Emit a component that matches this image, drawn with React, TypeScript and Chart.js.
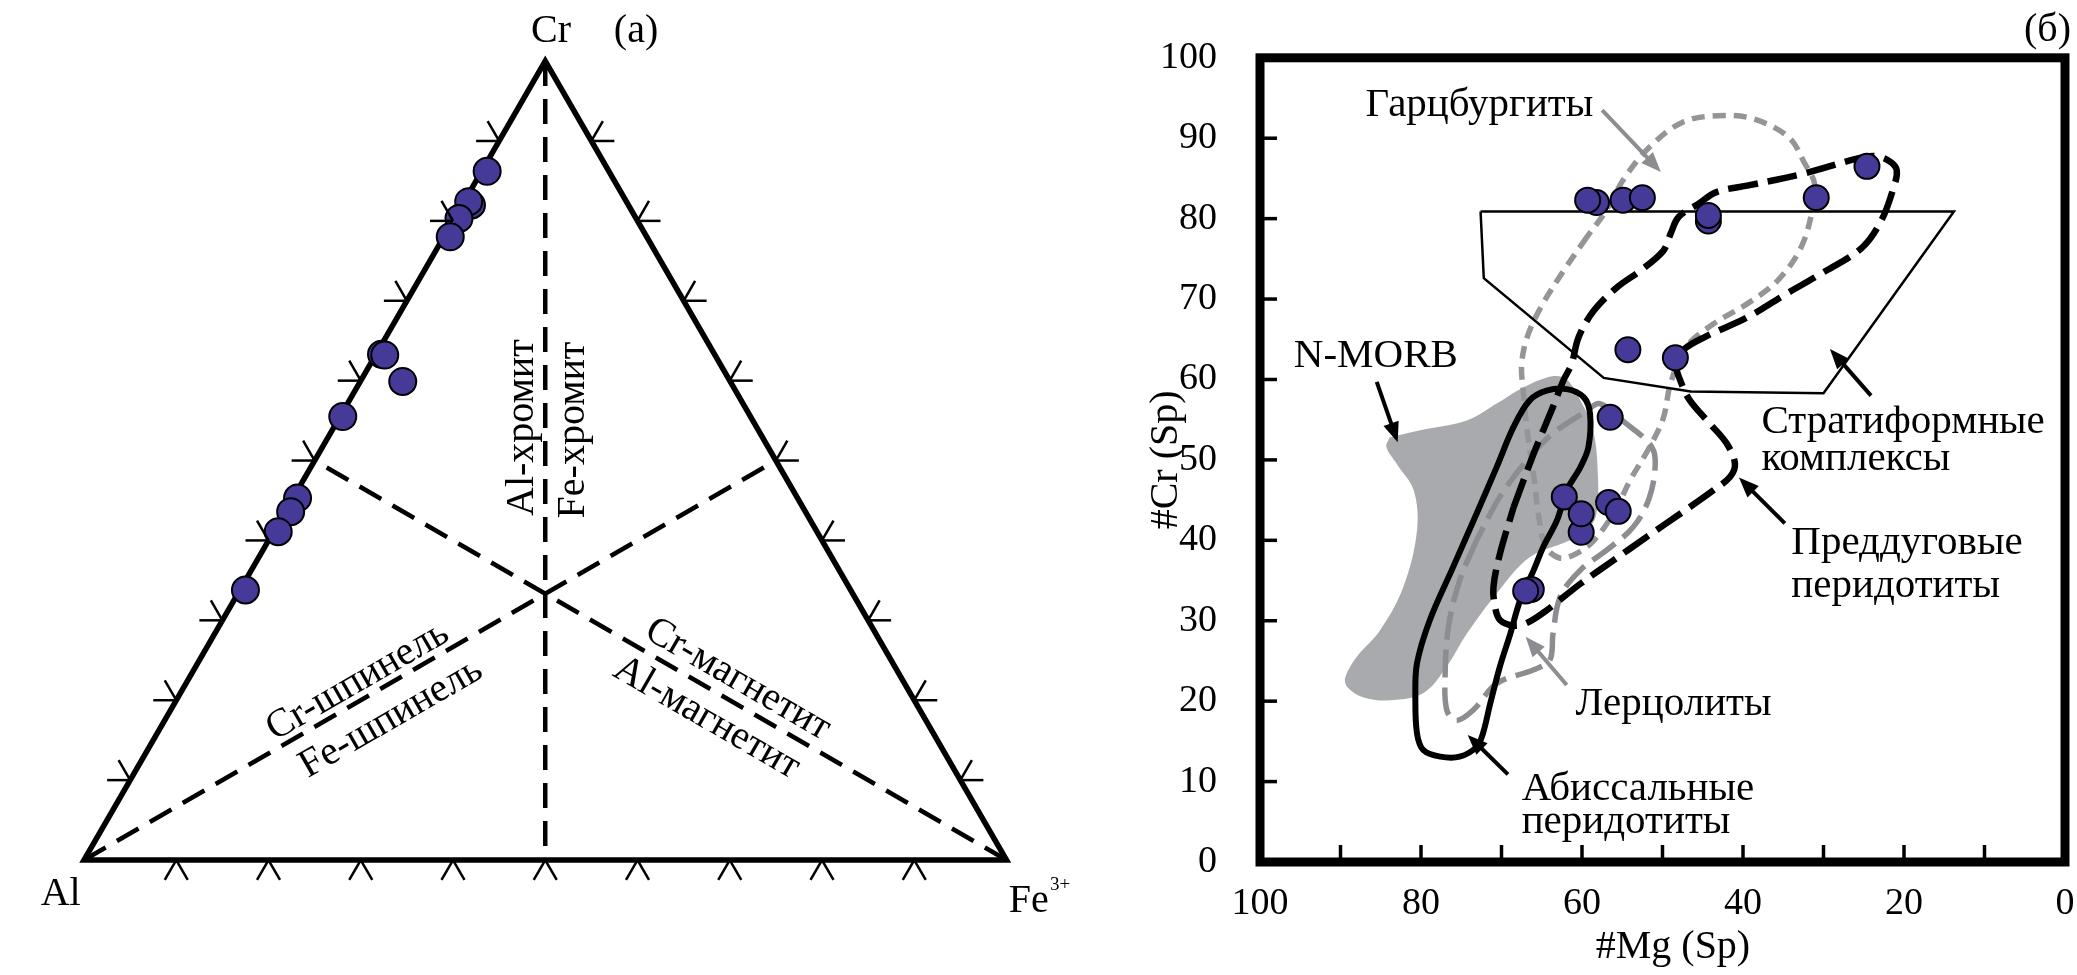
import React, { useEffect, useRef } from 'react';
import { Chart, registerables } from 'chart.js';

Chart.register(...registerables);

const SERIF = '"Liberation Serif", "Times New Roman", Times, serif';
const BLUE = '#453a98';
const FILL_GRAY = '#a8aaad';
const LHERZ_GRAY = '#8b8d90';
const HARZ_GRAY = '#939598';

// ---------- (a) ternary Cr – Al – Fe3+ (values in %, Al = 100 − Cr − Fe) ----------
const ternCr = [86.2, 82.0, 82.4, 80.3, 78.0, 63.3, 63.2, 59.9, 55.5, 45.3, 43.6, 41.1, 33.8];
const ternFe = [0.6, 1.0, 0.5, 0.5, 0.7, 0.6, 1.0, 4.6, 0.3, 0.5, 0.6, 0.5, 0.6];
const ternTickValues = [10, 20, 30, 40, 50, 60, 70, 80, 90];
const ternOutlineCr = [0, 100, 0, 0, 100];
const ternOutlineFe = [0, 0, 100, 0, 0];
const medianStartCr = [100, 0, 0];
const medianStartFe = [0, 0, 100];
const medianEndCr = [0, 50, 50];
const medianEndFe = [50, 50, 0];
const ternLabels = ['Al-хромит', 'Fe-хромит', 'Cr-шпинель', 'Fe-шпинель', 'Cr-магнетит', 'Al-магнетит'];

// ---------- (б) #Cr vs #Mg ----------
const mgNum = [58.2, 59.3, 54.9, 52.5, 44.3, 44.3, 30.9, 24.6, 54.3, 48.4, 56.5, 62.2, 60.1, 60.1, 56.7, 55.5, 66.3, 67.0];
const crNum = [82.0, 82.3, 82.3, 82.6, 79.7, 80.4, 82.6, 86.5, 63.7, 62.7, 55.3, 45.4, 41.0, 43.3, 44.7, 43.6, 33.9, 33.7];

const nmorbMg = [83.9, 80.1, 74.3, 70.6, 67.3, 63.7, 61.9, 60.2, 58.6, 58.0, 58.2, 59.0, 61.5, 66.5, 70.6, 74.3, 76.8, 79.7, 83.9, 87.2, 89.2, 89.4, 88.0, 85.1, 82.2, 80.5, 80.9, 83.0, 84.3, 83.9];
const nmorbCr = [52.8, 53.7, 54.9, 57.0, 59.0, 60.4, 60.0, 57.4, 53.7, 47.5, 43.3, 41.7, 40.0, 37.9, 33.4, 28.4, 24.3, 21.0, 20.1, 20.5, 21.8, 23.0, 25.5, 28.8, 34.2, 41.2, 46.2, 49.5, 51.6, 52.8];

const abyssMg = [73.1, 70.6, 68.5, 66.5, 64.4, 61.9, 59.8, 59.0, 59.2, 60.2, 61.9, 63.1, 64.8, 66.0, 67.7, 68.9, 70.2, 71.4, 72.3, 73.1, 75.2, 77.6, 79.7, 80.5, 80.7, 80.5, 78.9, 76.0, 73.1];
const abyssCr = [43.3, 49.1, 54.1, 57.4, 58.6, 58.8, 57.8, 55.7, 51.6, 49.1, 46.2, 42.5, 39.2, 36.3, 32.5, 28.4, 24.3, 19.7, 16.0, 14.3, 13.1, 13.1, 13.9, 16.0, 20.5, 24.7, 30.1, 36.7, 43.3];

const lherzMg = [73.1, 75.2, 76.6, 77.0, 76.8, 75.6, 73.5, 70.6, 66.0, 64.0, 63.6, 62.7, 60.2, 56.9, 53.6, 51.6, 50.9, 51.6, 54.5, 57.8, 59.4, 63.6, 66.9, 70.2, 73.1];
const lherzCr = [40.0, 35.0, 29.2, 23.4, 18.9, 17.6, 18.9, 22.2, 23.9, 25.1, 28.4, 33.0, 36.3, 38.8, 41.7, 45.4, 49.9, 52.0, 54.5, 57.0, 56.1, 53.3, 49.9, 45.4, 40.0];

const harzMg = [59.4, 62.3, 65.1, 66.8, 67.5, 67.3, 66.8, 66.0, 65.3, 64.5, 62.8, 60.8, 58.6, 56.0, 54.0, 51.6, 49.9, 49.0, 47.1, 43.7, 39.5, 35.7, 32.8, 31.4, 31.1, 32.3, 34.3, 38.7, 43.1, 47.5, 51.5, 54.7, 57.0, 59.4];
const harzCr = [77.7, 73.5, 69.0, 65.3, 61.9, 58.6, 53.5, 48.0, 42.5, 39.2, 37.8, 38.3, 39.9, 43.5, 47.5, 51.6, 55.2, 59.5, 64.0, 66.9, 69.4, 72.3, 76.4, 81.0, 84.3, 86.8, 90.1, 92.4, 92.8, 92.0, 89.0, 85.1, 81.0, 77.7];

const foreMg = [68.5, 66.0, 63.6, 62.3, 61.3, 60.4, 58.5, 55.6, 52.8, 49.9, 49.0, 48.0, 45.6, 43.3, 39.5, 32.8, 26.1, 23.8, 21.9, 20.9, 21.4, 22.8, 25.2, 30.4, 34.7, 39.5, 44.7, 47.5, 48.3, 47.8, 46.6, 44.1, 42.0, 41.0, 41.6, 43.7, 47.8, 52.0, 56.1, 60.2, 64.4, 66.9, 68.5, 70.2, 70.8, 71.0, 70.2, 68.5];
const foreCr = [44.1, 50.8, 56.6, 59.9, 61.9, 65.3, 68.6, 71.5, 73.5, 76.0, 78.1, 80.2, 81.8, 83.3, 84.1, 85.5, 87.4, 87.8, 87.2, 86.0, 83.5, 79.8, 76.4, 73.1, 70.6, 67.7, 65.3, 63.6, 61.8, 59.9, 57.4, 54.5, 52.0, 49.5, 47.9, 46.2, 43.3, 40.4, 37.5, 34.6, 31.3, 29.7, 29.4, 30.1, 31.7, 34.2, 38.3, 44.1];

const stratMg = [72.6, 13.8, 30.0, 46.5, 57.3, 72.2, 72.6];
const stratCr = [80.9, 80.9, 58.3, 58.5, 60.2, 72.6, 80.9];

const fieldLabels = ['Гарцбургиты', 'N-MORB', 'Стратиформные', 'комплексы', 'Преддуговые', 'перидотиты', 'Лерцолиты', 'Абиссальные', 'перидотиты'];
const fieldLabelMg = [86.9, 95.8, 37.7, 37.7, 34.0, 34.0, 60.8, 67.5, 67.5];
const fieldLabelCr = [92.8, 61.5, 53.3, 48.7, 38.3, 33.0, 18.3, 7.7, 3.6];

const arrowFromMg = [57.5, 85.5, 24.1, 34.8, 61.9, 69.2];
const arrowFromCr = [93.5, 59.7, 58.0, 42.1, 22.0, 10.9];
const arrowToMg = [50.2, 82.9, 29.2, 40.5, 67.0, 74.2];
const arrowToCr = [85.8, 52.2, 63.8, 47.8, 28.0, 15.8];
const arrowIsGray = [true, false, false, false, true, false];

const xTickValues = [0, 10, 20, 30, 40, 50, 60, 70, 80, 90, 100];
const xTitle = '#Mg (Sp)';
const yTitle = '#Cr (Sp)';

const SQ3 = Math.sqrt(3) / 2;
const tern = (cr: number, fe: number) => ({ x: (fe + cr / 2) / 100, y: (cr * SQ3) / 100 });
const pts = (xs: number[], ys: number[]) => xs.map((v, i) => ({ x: v, y: ys[i] }));

function drawArrow(ctx: CanvasRenderingContext2D, x1: number, y1: number, x2: number, y2: number, color: string) {
  const ang = Math.atan2(y2 - y1, x2 - x1);
  const hl = 20, hw = 8;
  const bx = x2 - hl * Math.cos(ang), by = y2 - hl * Math.sin(ang);
  ctx.strokeStyle = color;
  ctx.fillStyle = color;
  ctx.lineWidth = 4;
  ctx.beginPath();
  ctx.moveTo(x1, y1);
  ctx.lineTo(bx + 2 * Math.cos(ang), by + 2 * Math.sin(ang));
  ctx.stroke();
  ctx.beginPath();
  ctx.moveTo(x2, y2);
  ctx.lineTo(bx + hw * Math.sin(ang), by - hw * Math.cos(ang));
  ctx.lineTo(bx - hw * Math.sin(ang), by + hw * Math.cos(ang));
  ctx.closePath();
  ctx.fill();
}

const ternPlugin = {
  id: 'ternDecor',
  afterDatasetsDraw(chart: any) {
    const { ctx, scales } = chart;
    const xs = scales.x, ys = scales.y;
    const P = (cr: number, fe: number) => {
      const t = tern(cr, fe);
      return [xs.getPixelForValue(t.x), ys.getPixelForValue(t.y)];
    };
    const Q = (x: number, y: number) => [xs.getPixelForValue(x), ys.getPixelForValue(y)];
    ctx.save();
    ctx.strokeStyle = '#000';
    ctx.lineWidth = 2.5;
    const L = 23;
    const seg = (px: number, py: number, dx: number, dy: number) => {
      ctx.beginPath();
      ctx.moveTo(px, py);
      ctx.lineTo(px + dx, py + dy);
      ctx.stroke();
    };
    ternTickValues.forEach((t) => {
      let [px, py] = P(t, 0);
      seg(px, py, -L, 0);
      seg(px, py, -L * 0.5, -L * SQ3);
      [px, py] = P(t, 100 - t);
      seg(px, py, L, 0);
      seg(px, py, L * 0.5, -L * SQ3);
      [px, py] = P(0, t);
      seg(px, py, -L * 0.5, L * SQ3);
      seg(px, py, L * 0.5, L * SQ3);
    });

    ctx.fillStyle = '#000';
    ctx.font = `40px ${SERIF}`;
    ctx.textBaseline = 'alphabetic';
    let [lx, ly] = Q(0.5062, 0.8867);
    ctx.textAlign = 'center';
    ctx.fillText('Cr', lx, ly);
    [lx, ly] = Q(0.5984, 0.8867);
    ctx.fillText('(a)', lx, ly);
    ctx.textAlign = 'left';
    [lx, ly] = Q(-0.0469, -0.0488);
    ctx.fillText('Al', lx, ly);
    [lx, ly] = Q(1.0025, -0.0564);
    ctx.fillText('Fe', lx, ly);
    ctx.font = `19px ${SERIF}`;
    [lx, ly] = Q(1.0472, -0.0325);
    ctx.fillText('3+', lx, ly);

    ctx.font = `40px ${SERIF}`;
    const rot = (text: string, x: number, y: number, angle: number, baseline: CanvasTextBaseline) => {
      const [px, py] = Q(x, y);
      ctx.save();
      ctx.translate(px, py);
      ctx.rotate(angle);
      ctx.textAlign = 'center';
      ctx.textBaseline = baseline;
      ctx.fillText(text, 0, 0);
      ctx.restore();
    };
    rot(ternLabels[0], 0.4867, 0.4687, -Math.PI / 2, 'alphabetic');
    rot(ternLabels[1], 0.5420, 0.4661, -Math.PI / 2, 'alphabetic');
    rot(ternLabels[2], 0.2967, 0.1940, -Math.PI / 6, 'middle');
    rot(ternLabels[3], 0.3328, 0.1539, -Math.PI / 6, 'middle');
    rot(ternLabels[4], 0.7089, 0.1957, Math.PI / 6, 'middle');
    rot(ternLabels[5], 0.6750, 0.1539, Math.PI / 6, 'middle');
    ctx.restore();
  },
};

const panelBPlugin = {
  id: 'panelBDecor',
  afterDatasetsDraw(chart: any) {
    const { ctx, chartArea: a, scales } = chart;
    const xs = scales.x, ys = scales.y;
    const X = (v: number) => xs.getPixelForValue(v);
    const Y = (v: number) => ys.getPixelForValue(v);
    ctx.save();
    ctx.strokeStyle = '#000';
    ctx.lineWidth = 3.5;
    xs.ticks.forEach((t: any) => {
      if (t.value > 0 && t.value < 100) {
        const px = X(t.value);
        ctx.beginPath();
        ctx.moveTo(px, a.bottom - 4);
        ctx.lineTo(px, a.bottom - 17);
        ctx.stroke();
      }
    });
    ys.ticks.forEach((t: any) => {
      if (t.value > 0 && t.value < 100) {
        const py = Y(t.value);
        ctx.beginPath();
        ctx.moveTo(a.left + 4, py);
        ctx.lineTo(a.left + 17, py);
        ctx.stroke();
      }
    });
    ctx.lineWidth = 9;
    ctx.lineJoin = 'miter';
    ctx.strokeRect(a.left, a.top, a.right - a.left, a.bottom - a.top);

    arrowFromMg.forEach((m, i) => {
      drawArrow(ctx, X(m), Y(arrowFromCr[i]), X(arrowToMg[i]), Y(arrowToCr[i]), arrowIsGray[i] ? LHERZ_GRAY : '#000');
    });

    ctx.fillStyle = '#000';
    ctx.font = `41px ${SERIF}`;
    ctx.textAlign = 'left';
    ctx.textBaseline = 'alphabetic';
    fieldLabels.forEach((txt, i) => {
      ctx.fillText(txt, X(fieldLabelMg[i]), Y(fieldLabelCr[i]));
    });

    ctx.font = `40px ${SERIF}`;
    ctx.textAlign = 'center';
    ctx.fillText(xTitle, X(48.7), a.bottom + 96);

    ctx.textAlign = 'right';
    ctx.fillText('(б)', a.right + 6, a.top - 17);
    ctx.restore();
  },
};

export default function App() {
  const leftRef = useRef<HTMLCanvasElement>(null);
  const rightRef = useRef<HTMLCanvasElement>(null);

  useEffect(() => {
    const lineDs = (data: any[], extra: any) => ({
      data,
      showLine: true,
      pointRadius: 0,
      pointHoverRadius: 0,
      fill: false,
      borderColor: '#000',
      ...extra,
    });

    const left = new Chart(leftRef.current as HTMLCanvasElement, {
      type: 'scatter',
      data: {
        datasets: [
          {
            label: 'Шпинели',
            data: ternCr.map((c, i) => tern(c, ternFe[i])),
            pointRadius: 13.5,
            pointBackgroundColor: BLUE,
            pointBorderColor: '#000',
            pointBorderWidth: 2,
            order: 0,
            clip: false,
          } as any,
          lineDs(ternOutlineCr.map((c, i) => tern(c, ternOutlineFe[i])), {
            label: 'outline',
            borderWidth: 5.5,
            borderJoinStyle: 'miter',
            order: 1,
            clip: false,
          }),
          ...medianStartCr.map((c, i) =>
            lineDs([tern(c, medianStartFe[i]), tern(medianEndCr[i], medianEndFe[i])], {
              label: 'median' + i,
              borderWidth: 4.5,
              borderDash: [25, 13],
              order: 2,
              clip: false,
            })
          ),
        ],
      },
      options: {
        responsive: false,
        animation: false,
        devicePixelRatio: 1,
        events: [],
        layout: { padding: 0, autoPadding: false },
        plugins: { legend: { display: false }, tooltip: { enabled: false } },
        scales: {
          x: { type: 'linear', display: false, min: -0.09106, max: 1.10135 },
          y: { type: 'linear', display: false, min: -0.12466, max: 0.93225 },
        },
      } as any,
      plugins: [ternPlugin],
    });

    const right = new Chart(rightRef.current as HTMLCanvasElement, {
      type: 'scatter',
      data: {
        datasets: [
          {
            label: 'Образцы',
            data: pts(mgNum, crNum),
            pointRadius: 12.5,
            pointBackgroundColor: BLUE,
            pointBorderColor: '#000',
            pointBorderWidth: 2,
            order: 0,
          } as any,
          lineDs(pts(stratMg, stratCr), { label: 'Стратиформные комплексы', borderWidth: 2.5, tension: 0, order: 1 }),
          lineDs(pts(foreMg, foreCr), { label: 'Преддуговые перидотиты', borderWidth: 6.5, borderDash: [30, 10], tension: 0.35, order: 2 }),
          lineDs(pts(abyssMg, abyssCr), { label: 'Абиссальные перидотиты', borderWidth: 6, tension: 0.35, order: 3 }),
          lineDs(pts(lherzMg, lherzCr), { label: 'Лерцолиты', borderWidth: 5.5, borderColor: LHERZ_GRAY, borderDash: [28, 10], tension: 0.35, order: 4 }),
          lineDs(pts(harzMg, harzCr), { label: 'Гарцбургиты', borderWidth: 5.5, borderColor: HARZ_GRAY, borderDash: [13, 8], tension: 0.35, order: 5 }),
          lineDs(pts(nmorbMg, nmorbCr), { label: 'N-MORB', borderWidth: 0, borderColor: 'rgba(0,0,0,0)', backgroundColor: FILL_GRAY, fill: 'shape', tension: 0.35, order: 6 }),
        ],
      },
      options: {
        responsive: false,
        animation: false,
        devicePixelRatio: 1,
        events: [],
        layout: { padding: { top: 57, right: 12, left: 0, bottom: 0 }, autoPadding: false },
        plugins: { legend: { display: false }, tooltip: { enabled: false } },
        scales: {
          x: {
            type: 'linear',
            reverse: true,
            min: 0,
            max: 100,
            afterFit: (s: any) => { s.height = 113; },
            afterBuildTicks: (s: any) => { s.ticks = xTickValues.map((v) => ({ value: v })); },
            grid: { display: false },
            border: { display: false },
            ticks: {
              autoSkip: false,
              maxRotation: 0,
              padding: 11,
              color: '#000',
              font: { family: SERIF, size: 38 },
              callback: (v: any) => (Number(v) % 20 === 0 ? String(v) : ''),
            },
            title: { display: false, text: xTitle },
          },
          y: {
            type: 'linear',
            min: 0,
            max: 100,
            afterFit: (s: any) => { s.width = 160; },
            grid: { display: false },
            border: { display: false },
            ticks: { stepSize: 10, padding: 35, color: '#000', font: { family: SERIF, size: 38 } },
            title: { display: true, text: yTitle, color: '#000', font: { family: SERIF, size: 40 }, padding: { top: 42, bottom: 0 } },
          },
        },
      } as any,
      plugins: [panelBPlugin],
    });

    return () => {
      left.destroy();
      right.destroy();
    };
  }, []);

  return (
    <div style={{ position: 'absolute', left: 0, top: 0, width: 2077, height: 975, background: '#fff', overflow: 'hidden' }}>
      <canvas ref={leftRef} width={1100} height={975} style={{ position: 'absolute', left: 0, top: 0 }} />
      <canvas ref={rightRef} width={977} height={975} style={{ position: 'absolute', left: 1100, top: 0 }} />
    </div>
  );
}
